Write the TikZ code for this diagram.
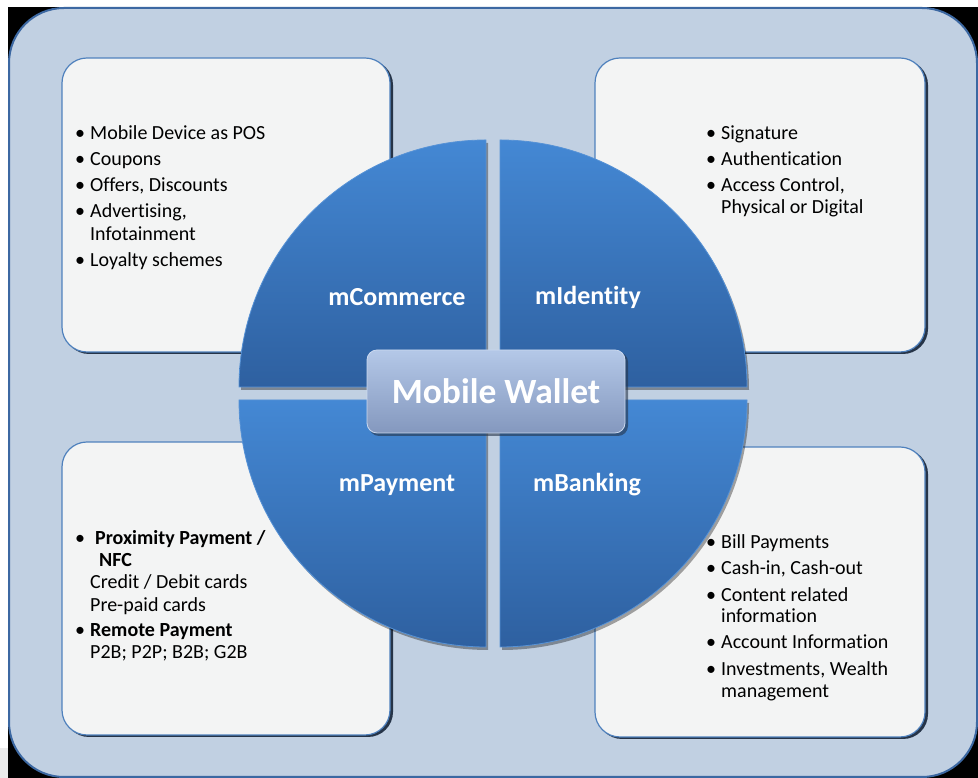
\documentclass[tikz,border=0pt]{standalone}
\usepackage{fontspec}
\setmainfont{Carlito}[Ligatures={NoCommon,NoContextual}]
\newcommand{\nti}{t\kern0pt i}
\definecolor{framebg}{RGB}{193,208,226}
\definecolor{frameblue}{RGB}{60,104,162}
\definecolor{boxfill}{RGB}{243,244,244}
\definecolor{boxblue}{RGB}{79,129,189}
\definecolor{shadowc}{RGB}{38,52,72}
\definecolor{qtop}{RGB}{68,136,212}
\definecolor{qbot}{RGB}{46,96,160}
\definecolor{qedge}{RGB}{86,146,214}
\definecolor{mwtop}{RGB}{180,200,232}
\definecolor{mwbot}{RGB}{132,152,190}
\begin{document}
\begin{tikzpicture}[x=1pt,y=1pt]
\tikzset{
  boxshadow/.style={fill=shadowc, rounded corners=25},
  infobox/.style={fill=boxfill, draw=boxblue, line width=1.2pt, rounded corners=25},
  quad/.style={top color=qtop, bottom color=qbot, draw=qedge, line width=0.8pt},
  qshadow/.style={fill=black, opacity=0.35},
  itemtext/.style={anchor=base west, inner sep=0pt, font=\fontsize{20}{22}\selectfont},
  bul/.style={anchor=base, inner sep=0pt, font=\fontsize{20}{22}\selectfont},
  qlabel/.style={inner sep=0pt, text=white, font=\fontsize{26}{30}\selectfont\bfseries},
}
\useasboundingbox (0,0) rectangle (978,778);
\fill[white] (0,0) rectangle (978,778);
\fill[black] (8,0) rectangle (978,771);
\fill[black!8] (0,0) rectangle (8,30);
\draw[line width=2pt, draw=frameblue, fill=framebg, rounded corners=55] (9,1) rectangle (977,770);

% info boxes
\fill[boxshadow] (64,424) rectangle (393,718);
\draw[infobox] (62,426) rectangle (390,720);
\fill[boxshadow] (597,424) rectangle (928,718);
\draw[infobox] (595,426) rectangle (925,720);
\fill[boxshadow] (64,41) rectangle (393,334);
\draw[infobox] (62,43) rectangle (390,336);
\fill[boxshadow] (597,39) rectangle (928,329);
\draw[infobox] (595,41) rectangle (925,331);

% quadrants
\def\qTL{(486,391) -- ++(-247,0) arc[start angle=180,end angle=90,radius=247] -- cycle}
\def\qTR{(500,391) -- ++(0,247) arc[start angle=90,end angle=0,radius=247] -- cycle}
\def\qBL{(486,378) -- ++(-247,0) arc[start angle=180,end angle=270,radius=247] -- cycle}
\def\qBR{(500,378) -- ++(247,0) arc[start angle=0,end angle=-90,radius=247] -- cycle}
\fill[qshadow,shift={(2,-3)}] \qTL;
\fill[qshadow,shift={(2,-3)}] \qTR;
\fill[qshadow,shift={(2,-3)}] \qBL;
\fill[qshadow,shift={(2,-3)}] \qBR;
\path[quad] \qTL;
\path[quad] \qTR;
\path[quad] \qBL;
\path[quad] \qBR;

\node[qlabel] (mcom) at (397,481) {mCommerce};
\node[qlabel] (mid) at (588,481) {mIden\nti{}ty};
\node[qlabel] (mpay) at (397,293) {mPayment};
\node[qlabel] (mbank) at (587,293) {mBanking};

% centre box
\fill[shadowc, opacity=0.6, rounded corners=10] (369,342) rectangle (628,426);
\node[draw=mwtop!70!white, line width=0.8pt, top color=mwtop, bottom color=mwbot, rounded corners=10,
      minimum width=258pt, minimum height=83pt, inner sep=0pt, text=white,
      font=\fontsize{35.5}{40}\selectfont\bfseries] (mw) at (496,386.5) {Mobile Wallet};

% top-left texts
\node[bul] (tlb1) at (80,638) {\textbullet};
\node[itemtext] (tl1) at (90,638) {Mobile Device as POS};
\node[bul] (tlb2) at (80,612) {\textbullet};
\node[itemtext] (tl2) at (90,612) {Coupons};
\node[bul] (tlb3) at (80,586) {\textbullet};
\node[itemtext] (tl3) at (90,586) {Offers, Discounts};
\node[bul] (tlb4) at (80,560) {\textbullet};
\node[itemtext] (tl4) at (90,560) {Adver\nti{}sing,};
\node[itemtext] (tl4b) at (90,537) {Infotainment};
\node[bul] (tlb5) at (80,511) {\textbullet};
\node[itemtext] (tl5) at (90,511) {Loyalty schemes};

% top-right texts
\node[bul] (trb1) at (711,638) {\textbullet};
\node[itemtext] (tr1) at (721,638) {Signature};
\node[bul] (trb2) at (711,612) {\textbullet};
\node[itemtext] (tr2) at (721,612) {Authentica\nti{}on};
\node[bul] (trb3) at (711,586) {\textbullet};
\node[itemtext] (tr3) at (721,586) {Access Control,};
\node[itemtext] (tr3b) at (721,564) {Physical or Digital};

% bottom-left texts
\node[bul] (blb1) at (80,233) {\textbullet};
\node[itemtext, font=\fontsize{20}{22}\selectfont\bfseries] (bl1) at (95,233) {Proximity Payment /};
\node[itemtext, font=\fontsize{20}{22}\selectfont\bfseries] (bl1b) at (99,211) {NFC};
\node[itemtext] (bl2) at (90,189) {Credit / Debit cards};
\node[itemtext] (bl3) at (90,166) {Pre-paid cards};
\node[bul] (blb4) at (80,141) {\textbullet};
\node[itemtext, font=\fontsize{20}{22}\selectfont\bfseries] (bl4) at (90,141) {Remote Payment};
\node[itemtext] (bl5) at (90,119) {P2B; P2P; B2B; G2B};

% bottom-right texts
\node[bul] (brb1) at (711,229) {\textbullet};
\node[itemtext] (br1) at (721,229) {Bill Payments};
\node[bul] (brb2) at (711,203) {\textbullet};
\node[itemtext] (br2) at (721,203) {Cash-in, Cash-out};
\node[bul] (brb3) at (711,176) {\textbullet};
\node[itemtext] (br3) at (721,176) {Content related};
\node[itemtext] (br3b) at (721,155) {informa\nti{}on};
\node[bul] (brb4) at (711,129) {\textbullet};
\node[itemtext] (br4) at (721,129) {Account Informa\nti{}on};
\node[bul] (brb5) at (711,102) {\textbullet};
\node[itemtext] (br5) at (721,102) {Investments, Wealth};
\node[itemtext] (br5b) at (721,80) {management};
\end{tikzpicture}
\end{document}
